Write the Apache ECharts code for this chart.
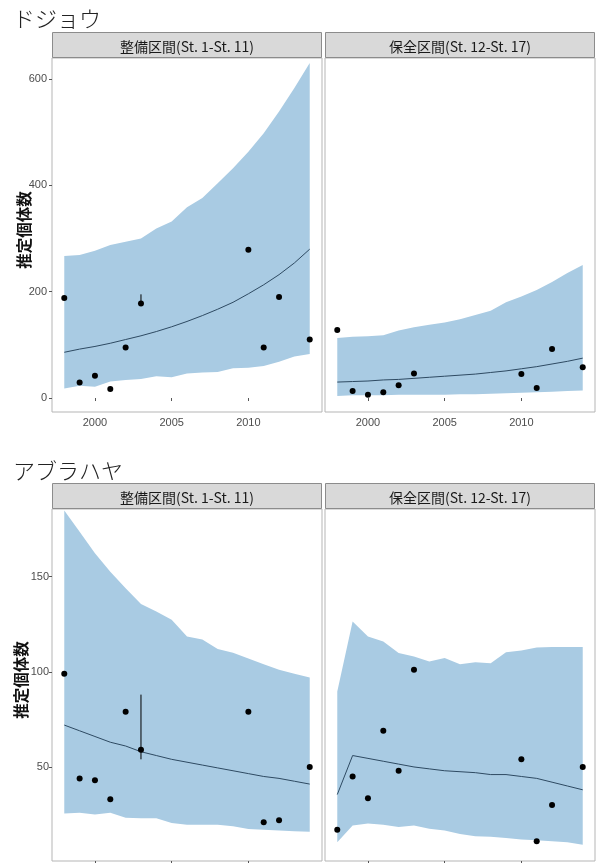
<!DOCTYPE html>
<html>
<head>
<meta charset="utf-8">
<script src="https://cdn.jsdelivr.net/npm/echarts@6/dist/echarts.min.js"></script>
<style>
  html, body { margin: 0; padding: 0; background: #fff; }
  #chart { width: 597px; height: 863px; }
</style>
</head>
<body>
<div id="chart"></div>
<script>
// years of the fitted curve / ribbon
var years = [1998, 1999, 2000, 2001, 2002, 2003, 2004, 2005, 2006, 2007, 2008, 2009, 2010, 2011, 2012, 2013, 2014];
// years with observed points
var obsYears = [1998, 1999, 2000, 2001, 2002, 2003, 2010, 2011, 2012, 2014];

var speciesNames = ['ドジョウ', 'アブラハヤ'];
var sectionNames = ['整備区間(St. 1-St. 11)', '保全区間(St. 12-St. 17)'];
var yName = '推定個体数';

var xTicks = [2000, 2005, 2010];
var dojoTicks = [0, 200, 400, 600];
var abraTicks = [50, 100, 150];

// ドジョウ 整備区間
var dojoSeibiObs = [188, 29, 42, 17, 95, 178, 279, 95, 190, 110];
var dojoSeibiFit = [86, 92, 97, 103, 110, 117, 125, 134, 144, 155, 167, 180, 196, 213, 232, 254, 280];
var dojoSeibiLo = [18, 23, 21, 31, 34, 36, 41, 39, 46, 48, 49, 56, 57, 60, 68, 78, 83];
var dojoSeibiHi = [267, 269, 277, 288, 294, 300, 319, 332, 359, 376, 404, 432, 463, 498, 539, 583, 630];
var dojoSeibiErr = [178, 195];

// ドジョウ 保全区間
var dojoHozenObs = [128, 13, 6, 11, 24, 46, 45, 19, 92, 58];
var dojoHozenFit = [30, 31, 32, 34, 35, 37, 39, 41, 43, 45, 48, 51, 55, 59, 64, 69, 75];
var dojoHozenLo = [4, 5, 5, 5, 6, 6, 6, 6, 7, 7, 8, 9, 10, 11, 12, 13, 14];
var dojoHozenHi = [113, 115, 116, 118, 127, 133, 138, 142, 148, 156, 164, 180, 191, 203, 218, 235, 250];

// アブラハヤ 整備区間
var abraSeibiObs = [99, 44, 43, 33, 79, 59, 79, 21, 22, 50];
var abraSeibiFit = [72, 69, 66, 63, 61, 58, 56, 54, 52.5, 51, 49.5, 48, 46.5, 45, 44, 42.5, 41];
var abraSeibiLo = [25.5, 26, 25, 26, 23.3, 23, 23, 20.6, 19.7, 19.7, 19.7, 18.8, 17.4, 17, 16.6, 16.2, 15.9];
var abraSeibiHi = [184.7, 173.6, 162.3, 152.6, 143.9, 135.6, 131.6, 127.3, 118.5, 117, 112, 110, 107, 104, 101, 99, 97];
var abraSeibiErr = [54, 88];

// アブラハヤ 保全区間
var abraHozenObs = [17, 45, 33.5, 69, 48, 101, 54, 11, 30, 50];
var abraHozenFit = [35.5, 56, 54.5, 53, 51.5, 50, 49, 48, 47.5, 47, 46, 46, 45, 44, 42, 40, 38];
var abraHozenLo = [10.4, 19.2, 20.3, 19.7, 18.5, 19.2, 17.5, 16.6, 14.8, 13.6, 13.3, 12.7, 11.9, 11.5, 11, 10.4, 9.2];
var abraHozenHi = [89.7, 126.4, 118.5, 115.9, 109.8, 108, 105.4, 107.2, 104, 105, 104.5, 110.3, 111.2, 112.8, 113, 113, 113];

var errYear = 2003;

var BAND = '#a9cbe3';
var FIT = '#2e4a62';
var LABEL = '#4d4d4d';
var JP = '"Noto Sans CJK JP", "Noto Sans CJK SC", sans-serif';
var LAT = '"Liberation Sans", Arial, sans-serif';

function pairs(xs, ys) {
  return xs.map(function (x, i) { return [x, ys[i]]; });
}

function ribbon(idx, lo, hi) {
  return {
    type: 'custom',
    xAxisIndex: idx, yAxisIndex: idx,
    silent: true,
    clip: true,
    z: 1,
    data: [[years[0], lo[0]]],
    renderItem: function (params, api) {
      var pts = [];
      for (var i = 0; i < years.length; i++) pts.push(api.coord([years[i], hi[i]]));
      for (var j = years.length - 1; j >= 0; j--) pts.push(api.coord([years[j], lo[j]]));
      return { type: 'polygon', shape: { points: pts }, style: { fill: BAND } };
    }
  };
}

function fitLine(idx, fit) {
  return {
    type: 'line', xAxisIndex: idx, yAxisIndex: idx, z: 2,
    data: pairs(years, fit), showSymbol: false, silent: true,
    lineStyle: { color: FIT, width: 1 }
  };
}

function errBar(idx, err) {
  return {
    type: 'line', xAxisIndex: idx, yAxisIndex: idx, z: 3,
    data: [[errYear, err[0]], [errYear, err[1]]], showSymbol: false, silent: true,
    lineStyle: { color: '#000', width: 1 }
  };
}

function points(idx, obs) {
  return {
    type: 'scatter', xAxisIndex: idx, yAxisIndex: idx, z: 4,
    data: pairs(obsYears, obs), symbolSize: 6, silent: true,
    itemStyle: { color: '#000', opacity: 1 }
  };
}

var gridPos = [
  { left: 52, top: 58, width: 270, height: 354 },
  { left: 325, top: 58, width: 270, height: 354 },
  { left: 52, top: 509, width: 270, height: 352 },
  { left: 325, top: 509, width: 270, height: 352 }
];

var grids = gridPos.map(function (g) {
  return Object.assign({ show: true, borderColor: '#b5b5b5', borderWidth: 1,
    backgroundColor: '#fff', containLabel: false, outerBoundsMode: 'none' }, g);
});

function plain(v) { return String(v); }

var xAxes = gridPos.map(function (g, i) {
  return {
    type: 'value', gridIndex: i, min: 1997.2, max: 2014.8,
    splitLine: { show: false }, axisLine: { show: false },
    axisTick: { show: true, length: 3, lineStyle: { color: '#555' }, customValues: xTicks },
    axisLabel: { show: true, color: LABEL, fontSize: 11, fontFamily: LAT, margin: 5,
      customValues: xTicks, formatter: plain }
  };
});

var yAxes = gridPos.map(function (g, i) {
  var top = i < 2;
  return {
    type: 'value', gridIndex: i,
    min: top ? -26.3 : 0.6, max: top ? 639.5 : 185.5,
    splitLine: { show: false }, axisLine: { show: false },
    axisTick: { show: i % 2 === 0, length: 3, lineStyle: { color: '#555' }, customValues: top ? dojoTicks : abraTicks },
    axisLabel: { show: i % 2 === 0, color: LABEL, fontSize: 11, fontFamily: LAT, margin: top ? 5 : 3,
      customValues: top ? dojoTicks : abraTicks, formatter: plain }
  };
});

var graphics = [];
gridPos.forEach(function (g, i) {
  var sy = g.top - 26;
  graphics.push({
    type: 'rect', shape: { x: g.left + 0.5, y: sy + 0.5, width: g.width - 1, height: 25 },
    style: { fill: '#d9d9d9', stroke: '#8c8c8c', lineWidth: 1 }, z: 10
  });
  graphics.push({
    type: 'text', x: g.left + g.width / 2, y: sy + 14.5, z: 11,
    style: { text: sectionNames[i % 2], fill: '#1a1a1a', font: '14px ' + JP,
      textAlign: 'center', textVerticalAlign: 'middle' }
  });
});
[[19, 0], [471, 1]].forEach(function (t) {
  graphics.push({
    type: 'text', x: 13, y: t[0], z: 11,
    style: { text: speciesNames[t[1]], fill: '#222', font: '300 22px ' + JP,
      textAlign: 'left', textVerticalAlign: 'middle' }
  });
});
[[24, 230], [21, 680]].forEach(function (p) {
  graphics.push({
    type: 'text', x: p[0], y: p[1], rotation: Math.PI / 2, z: 11,
    style: { text: yName, fill: '#111', font: 'bold 15.5px ' + JP,
      textAlign: 'center', textVerticalAlign: 'middle' }
  });
});

var option = {
  backgroundColor: '#fff',
  animation: false,
  grid: grids,
  xAxis: xAxes,
  yAxis: yAxes,
  graphic: graphics,
  series: [
    ribbon(0, dojoSeibiLo, dojoSeibiHi), fitLine(0, dojoSeibiFit), errBar(0, dojoSeibiErr), points(0, dojoSeibiObs),
    ribbon(1, dojoHozenLo, dojoHozenHi), fitLine(1, dojoHozenFit), points(1, dojoHozenObs),
    ribbon(2, abraSeibiLo, abraSeibiHi), fitLine(2, abraSeibiFit), errBar(2, abraSeibiErr), points(2, abraSeibiObs),
    ribbon(3, abraHozenLo, abraHozenHi), fitLine(3, abraHozenFit), points(3, abraHozenObs)
  ]
};

var chart = echarts.init(document.getElementById('chart'), null, { renderer: 'canvas' });
chart.setOption(option);
</script>
</body>
</html>
